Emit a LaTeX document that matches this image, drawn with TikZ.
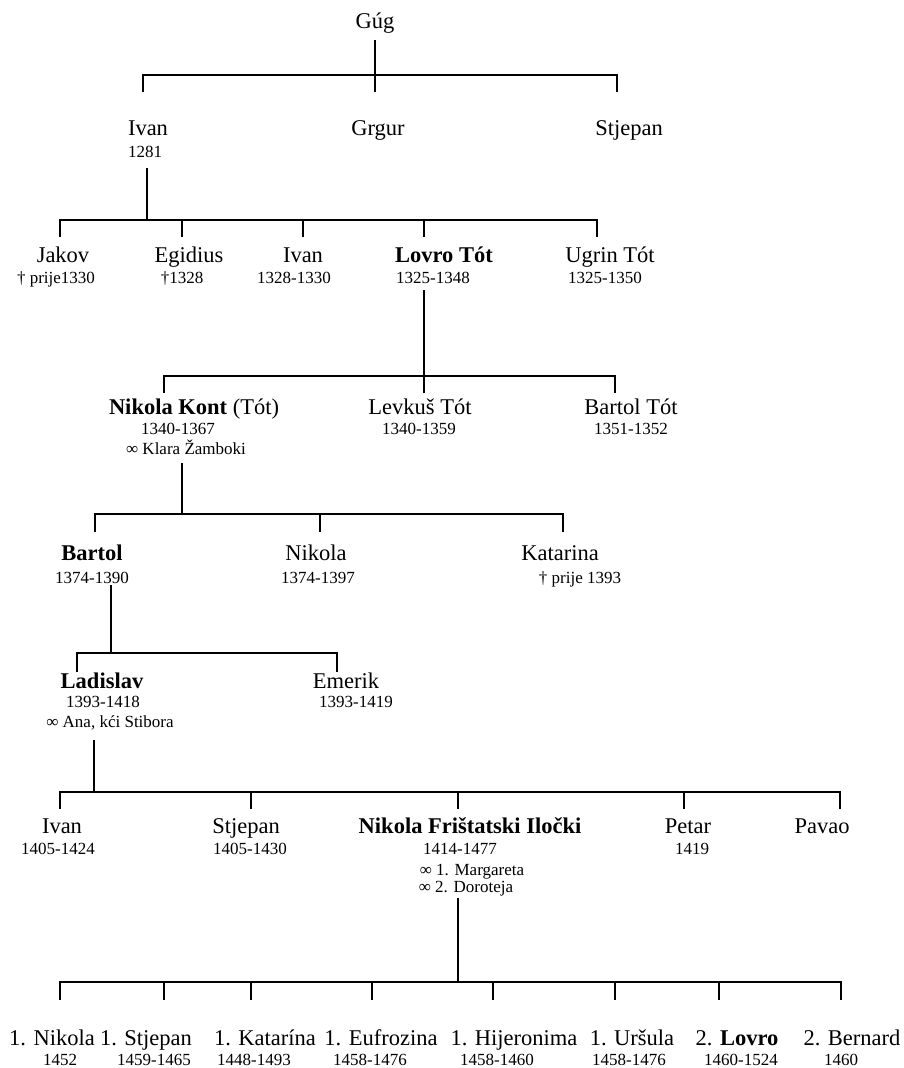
\documentclass[tikz,border=0pt]{standalone}
\usepackage{fontspec}
\setmainfont{Liberation Serif}
\tikzset{
  ime/.style={font=\fontsize{22.5}{27}\selectfont, inner sep=0pt, anchor=base},
  god/.style={font=\fontsize{17}{20}\selectfont, inner sep=0pt, anchor=base},
  crta/.style={line width=1.2pt},
}
\begin{document}
\begin{tikzpicture}[x=1pt,y=-1pt]
\useasboundingbox (0,0) rectangle (904,1068);
% Imena
\node[ime] (g) at (375,28) {Gúg};
\node[ime] (i1) at (148,135) {Ivan};
\node[god] (i1d) at (145,157) {1281};
\node[ime] (gr) at (378,135) {Grgur};
\node[ime] (st1) at (629,135) {Stjepan};
%
\node[ime] (ja) at (63,262) {Jakov};
\node[god] (jad) at (56,283) {† prije1330};
\node[ime] (eg) at (189,262) {Egidius};
\node[god] (egd) at (182,283) {†1328};
\node[ime] (iv2) at (303,262) {Ivan};
\node[god] (iv2d) at (294,283) {1328-1330};
\node[ime] (lt) at (444,262) {\textbf{Lovro Tót}};
\node[god] (ltd) at (433,283) {1325-1348};
\node[ime] (ut) at (610,262) {Ugrin Tót};
\node[god] (utd) at (605,283) {1325-1350};
%
\node[ime] (nk) at (194,414) {\textbf{Nikola Kont} (Tót)};
\node[god] (nkd) at (178,434) {1340-1367};
\node[god] (nkz) at (186,454) {∞ Klara Žamboki};
\node[ime] (lk) at (420,414) {Levkuš Tót};
\node[god] (lkd) at (419,434) {1340-1359};
\node[ime] (bt) at (631,414) {Bartol Tót};
\node[god] (btd) at (631,434) {1351-1352};
%
\node[ime] (ba) at (92,560) {\textbf{Bartol}};
\node[god] (bad) at (92,583) {1374-1390};
\node[ime] (ni) at (316,560) {Nikola};
\node[god] (nid) at (318,583) {1374-1397};
\node[ime] (ka) at (560,560) {Katarina};
\node[god] (kad) at (580,583) {† prije 1393};
%
\node[ime] (la) at (102,688) {\textbf{Ladislav}};
\node[god] (lad) at (103,707) {1393-1418};
\node[god] (laz) at (110,727) {∞ Ana, kći Stibora};
\node[ime] (em) at (346,688) {Emerik};
\node[god] (emd) at (356,707) {1393-1419};
%
\node[ime] (iv3) at (62,833) {Ivan};
\node[god] (iv3d) at (58,854) {1405-1424};
\node[ime] (st3) at (246,833) {Stjepan};
\node[god] (st3d) at (250,854) {1405-1430};
\node[ime] (nf) at (470,833) {\textbf{Nikola Frištatski Iločki}};
\node[god] (nfd) at (460,854) {1414-1477};
\node[god] (nfz1) at (472,875) {∞ 1. Margareta};
\node[god] (nfz2) at (466,892) {∞ 2. Doroteja};
\node[ime] (pe) at (688,833) {Petar};
\node[god] (ped) at (692,854) {1419};
\node[ime] (pa) at (822,833) {Pavao};
%
\node[ime] (d1) at (52,1045) {1. Nikola};
\node[god] (d1g) at (60,1065) {1452};
\node[ime] (d2) at (146,1045) {1. Stjepan};
\node[god] (d2g) at (154,1065) {1459-1465};
\node[ime] (d3) at (265,1045) {1. Katarína};
\node[god] (d3g) at (254,1065) {1448-1493};
\node[ime] (d4) at (381,1045) {1. Eufrozina};
\node[god] (d4g) at (370,1065) {1458-1476};
\node[ime] (d5) at (514,1045) {1. Hijeronima};
\node[god] (d5g) at (497,1065) {1458-1460};
\node[ime] (d6) at (632,1045) {1. Uršula};
\node[god] (d6g) at (629,1065) {1458-1476};
\node[ime] (d7) at (737,1045) {2. \textbf{Lovro}};
\node[god] (d7g) at (741,1065) {1460-1524};
\node[ime] (d8) at (852,1045) {2. Bernard};
\node[god] (d8g) at (841,1065) {1460};
% Linije: Gúg
\coordinate (g0) at (375,40);
\coordinate (g1) at (143,92);
\coordinate (g2) at (375,92);
\coordinate (g3) at (617,92);
\draw[crta] (g0) -- (g2);
\draw[crta] (g1) -- ++(0,-17) -| (g3);
% Linije: Ivan
\coordinate (a0) at (147,168);
\coordinate (a1) at (60,237);
\coordinate (a2) at (182,237);
\coordinate (a3) at (303,237);
\coordinate (a4) at (424,237);
\coordinate (a5) at (597,237);
\draw[crta] (a0) -- ++(0,52);
\draw[crta] (a1) -- ++(0,-17) -| (a5);
\draw[crta] (a2) -- ++(0,-17);
\draw[crta] (a3) -- ++(0,-17);
\draw[crta] (a4) -- ++(0,-17);
% Linije: Lovro Tót
\coordinate (b0) at (424,290);
\coordinate (b1) at (164,393);
\coordinate (b2) at (424,393);
\coordinate (b3) at (615,393);
\draw[crta] (b0) -- (b2);
\draw[crta] (b1) -- ++(0,-17) -| (b3);
% Linije: Nikola Kont
\coordinate (c0) at (182,463);
\coordinate (c1) at (95,532);
\coordinate (c2) at (320,532);
\coordinate (c3) at (563,532);
\draw[crta] (c0) -- ++(0,51);
\draw[crta] (c1) -- ++(0,-18) -| (c3);
\draw[crta] (c2) -- ++(0,-18);
% Linije: Bartol
\coordinate (e0) at (111,585);
\coordinate (e1) at (77,672);
\coordinate (e2) at (337,672);
\draw[crta] (e0) -- ++(0,68);
\draw[crta] (e1) -- ++(0,-19) -| (e2);
% Linije: Ladislav
\coordinate (f0) at (94,740);
\coordinate (f1) at (60,809);
\coordinate (f2) at (251,809);
\coordinate (f3) at (458,809);
\coordinate (f4) at (684,809);
\coordinate (f5) at (840,809);
\draw[crta] (f0) -- ++(0,52);
\draw[crta] (f1) -- ++(0,-17) -| (f5);
\draw[crta] (f2) -- ++(0,-17);
\draw[crta] (f3) -- ++(0,-17);
\draw[crta] (f4) -- ++(0,-17);
% Linije: Nikola Frištatski
\coordinate (h0) at (458,898);
\coordinate (h1) at (60,1000);
\coordinate (h2) at (164,1000);
\coordinate (h3) at (251,1000);
\coordinate (h4) at (372,1000);
\coordinate (h5) at (493,1000);
\coordinate (h6) at (615,1000);
\coordinate (h7) at (719,1000);
\coordinate (h8) at (841,1000);
\draw[crta] (h0) -- ++(0,84);
\draw[crta] (h1) -- ++(0,-18) -| (h8);
\draw[crta] (h2) -- ++(0,-18);
\draw[crta] (h3) -- ++(0,-18);
\draw[crta] (h4) -- ++(0,-18);
\draw[crta] (h5) -- ++(0,-18);
\draw[crta] (h6) -- ++(0,-18);
\draw[crta] (h7) -- ++(0,-18);
\end{tikzpicture}
\end{document}
